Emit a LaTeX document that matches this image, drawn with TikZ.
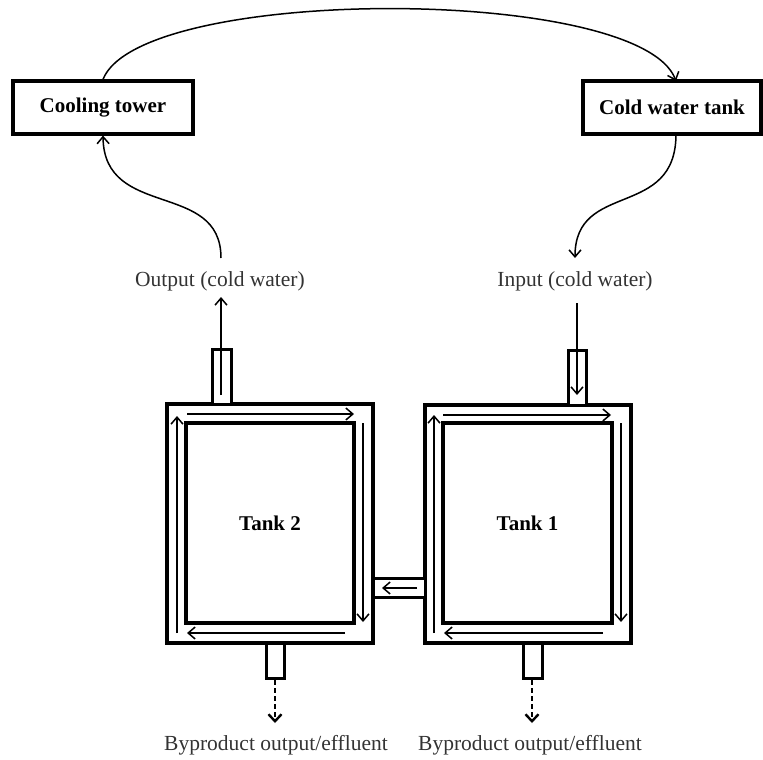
\documentclass[tikz,border=0pt]{standalone}
\usepackage{fontspec}
\setmainfont{Liberation Serif}
\usetikzlibrary{arrows.meta}
\begin{document}
\begin{tikzpicture}[x=1pt,y=-1pt,
  labelbox/.style={draw,line width=3.2pt,minimum width=#1,minimum height=53pt,inner sep=0pt,
    font=\fontsize{21}{25}\selectfont\bfseries},
  wall/.style={draw,line width=3.4pt,inner sep=0pt},
  pipe/.style={draw,line width=3pt,fill=white},
  caption/.style={text=black!80,inner sep=0pt,font=\fontsize{21.5}{25}\selectfont},
  tanklabel/.style={inner sep=0pt,font=\fontsize{21}{25}\selectfont\bfseries},
  flow/.style={line width=1.5pt,-{Straight Barb[length=7pt,width=12pt,line width=1.5pt]}},
  drain/.style={line width=2.2pt,dash pattern=on 5pt off 3pt,-{Straight Barb[length=7pt,width=13pt,line width=2.4pt]}}
]
\useasboundingbox (0,0) rectangle (763,760);

% cooling circuit boxes
\node[labelbox=180pt] (ct) at (103,107.5) {Cooling tower};
\node[labelbox=178pt] (cwt) at (672,107.5) {Cold water tank};

% inlet / outlet captions
\node[caption] (outlbl) at (220,281) {Output (cold water)};
\node[caption] (inlbl) at (575,281) {Input (cold water)};
\coordinate (outTop) at (221,258);
\coordinate (inTop) at (575,258);
\coordinate (cwtOut) at (676,134);
\coordinate (cwtIn) at (676,81);

% tank walls
\node[wall,minimum width=206pt,minimum height=239pt] (t2) at (270,523.5) {};
\node[wall,minimum width=168pt,minimum height=200pt] (t2in) at (270,523) {};
\node[wall,minimum width=206pt,minimum height=238pt] (t1) at (528,524) {};
\node[wall,minimum width=169pt,minimum height=200pt] (t1in) at (527.5,523) {};
\node[tanklabel] (t2lbl) at (t2in) {Tank 2};
\node[tanklabel] (t1lbl) at (t1in) {Tank 1};

% pipes
\draw[pipe] (212,349) rectangle (231,404);
\draw[pipe] (568,350) rectangle (586,405);
\draw[pipe] (373,578) rectangle (425,597);
\draw[pipe] (266,643) rectangle (284,678);
\draw[pipe] (523,643) rectangle (542,678);
\coordinate (p2top) at (221,395);
\coordinate (p1top) at (577,395);
\coordinate (inFeed) at (577,303);
\coordinate (outFeed) at (221,297);
\coordinate (d2a) at (275,680);
\coordinate (d2b) at (275,723);
\coordinate (d1a) at (532,680);
\coordinate (d1b) at (532,723);

% return loop over the top
\draw[flow] (ct.north) .. controls (140,-15) and (640,-15) .. (cwtIn);
% tank 2 outlet to cooling tower
\draw[flow] (outTop) .. controls (221,180) and (104,220) .. (ct.south);
% cold water tank to tank 1 inlet
\draw[flow] (cwtOut) .. controls (676,220) and (575,180) .. (inTop);

% feed lines
\draw[flow] (p2top) -- (outFeed);
\draw[flow] (inFeed) -- (p1top);

% circulation inside tank 2
\draw[flow] (187,414) -- (354,414);
\draw[flow] (363,423) -- (363,622);
\draw[flow] (345,633) -- (187,633);
\draw[flow] (177,633) -- (177,416);
% circulation inside tank 1
\draw[flow] (443,415) -- (611,415);
\draw[flow] (621,423) -- (621,622);
\draw[flow] (603,633) -- (444,633);
\draw[flow] (434,633) -- (434,415);
% transfer pipe from tank 1 to tank 2
\draw[flow] (417,588) -- (382,588);

% effluent drains
\draw[drain] (d2a) -- (d2b);
\draw[drain] (d1a) -- (d1b);
\node[caption] (eff2) at (276,745) {Byproduct output/effluent};
\node[caption] (eff1) at (530,745) {Byproduct output/effluent};
\end{tikzpicture}
\end{document}
